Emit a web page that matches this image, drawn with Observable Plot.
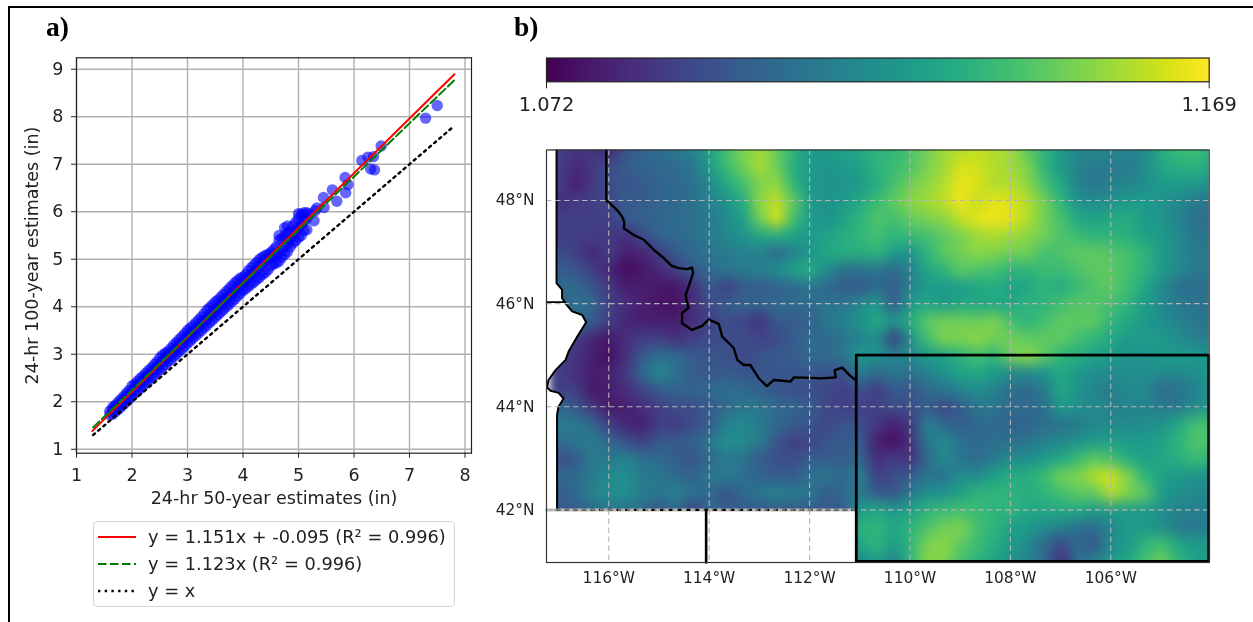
<!DOCTYPE html>
<html><head><meta charset="utf-8">
<style>
html,body{margin:0;padding:0;background:#fff;}
#page{position:relative;width:1253px;height:622px;overflow:hidden;background:#fff;font-family:"DejaVu Sans";color:#222;filter:blur(0.4px);}
#page>svg,#page>figure{position:absolute;margin:0;}
.tag{position:absolute;font:bold 27.5px "Liberation Serif";color:#000;line-height:28px;}
.rule{position:absolute;background:#000;}
#legend{position:absolute;left:92.5px;top:520.5px;width:360px;height:84px;border:1px solid #d5d5d5;border-radius:4px;}
#legend svg{position:absolute;left:4px;top:0;}
#legend div{position:absolute;left:54.5px;font-size:17.8px;white-space:nowrap;line-height:20px;}
</style>
<script src="https://cdn.jsdelivr.net/npm/d3@7"></script>
<script src="https://cdn.jsdelivr.net/npm/@observablehq/plot@0.6"></script>
</head><body><div id="page"></div>
<script>
// ---------- panel a data ----------
const xTicks=[1,2,3,4,5,6,7,8];
const yTicks=[1,2,3,4,5,6,7,8,9];
const fitRed={slope:1.151,intercept:-0.095,from:1.283,to:7.81};
const fitGreen={slope:1.123,from:1.3,to:7.81};
const fitIdentity={from:1.3,to:7.8};
const legendLabels=["y = 1.151x + -0.095 (R² = 0.996)","y = 1.123x (R² = 0.996)","y = x"];
const bandX=[1.60,1.65,1.70,1.75,1.80,1.85,1.90,1.95,2.00,2.05,2.10,2.15,2.20,2.25,2.30,2.35,2.40,2.45,2.50,2.55,2.60,2.65,2.70,2.75,2.80,2.85,2.90,2.95,3.00,3.05,3.10,3.15,3.20,3.25,3.30,3.35,3.40,3.45,3.50,3.55,3.60,3.65,3.70,3.75,3.80,3.85,3.90,3.95,4.00,4.05,4.10,4.15,4.20,4.25,4.30,4.35,4.40,4.45,4.50,4.55,4.60,4.65,4.70,4.75,4.80,4.85,4.90,4.95,5.00,5.05,5.10,5.15];
const bandY=[[1.72,1.80],[1.74,1.82,1.88],[1.79,1.87,1.93],[1.84,1.92,1.99],[1.89,1.98,2.05],[1.95,2.04,2.11],[2.00,2.10,2.18],[2.06,2.16,2.24],[2.12,2.22,2.33],[2.18,2.28,2.37],[2.23,2.33,2.43],[2.29,2.39,2.49],[2.34,2.45,2.54],[2.40,2.50,2.60],[2.45,2.56,2.66],[2.51,2.62,2.71],[2.56,2.67,2.78],[2.62,2.73,2.84],[2.67,2.79,2.92],[2.73,2.85,2.98],[2.78,2.90,3.02],[2.84,2.96,3.06],[2.89,3.02,3.12],[2.95,3.07,3.19],[3.00,3.13,3.25],[3.06,3.19,3.31],[3.11,3.24,3.37],[3.17,3.30,3.43],[3.23,3.36,3.50],[3.28,3.42,3.55],[3.34,3.48,3.60],[3.39,3.53,3.66],[3.45,3.59,3.72],[3.50,3.65,3.78],[3.56,3.71,3.85],[3.61,3.76,3.93],[3.67,3.82,3.98],[3.72,3.88,4.04],[3.78,3.94,4.10],[3.83,3.99,4.14],[3.89,4.05,4.20],[3.94,4.11,4.26],[4.00,4.17,4.32],[4.05,4.22,4.38],[4.11,4.28,4.44],[4.16,4.34,4.50],[4.22,4.40,4.55],[4.28,4.45,4.60],[4.34,4.51,4.62],[4.38,4.56,4.68],[4.43,4.62,4.76],[4.48,4.68,4.82],[4.52,4.74,4.88],[4.58,4.80,4.94],[4.62,4.85,5.00],[4.68,4.91,5.04],[4.72,4.97,5.08],[4.78,5.00,5.10],[4.86,5.05,5.14],[4.90,5.08,5.20],[4.92,5.10,5.26],[4.96,5.14,5.40,5.50],[5.04,5.20,5.44],[5.10,5.28,5.48,5.66],[5.16,5.34,5.56,5.70],[5.26,5.42,5.58],[5.34,5.50,5.70],[5.39,5.58,5.78],[5.46,5.66,5.86,5.96],[5.50,5.74,5.95],[5.60,5.80,5.98],[5.62,5.86,5.98]];
const outlierX=[5.20,5.28,5.30,5.33,5.45,5.46,5.61,5.69,5.84,5.85,5.89,6.14,6.25,6.30,6.35,6.37,6.49,7.29,7.50];
const outlierY=[5.95,5.81,6.02,6.08,6.30,6.09,6.46,6.22,6.72,6.40,6.57,7.08,7.15,6.90,7.16,6.88,7.385,7.97,8.235];

// ---------- panel b data: ratio on a grid of 1/3 degree, from 117W to 104W, 49N to 41N ----------
const cbarMin=1.072, cbarMax=1.169;
const gridWest=-117, gridEast=-104, gridNorth=49, gridSouth=41;
const ratioRows=[
[1.090,1.087,1.087,1.082,1.098,1.103,1.106,1.112,1.116,1.128,1.140,1.150,1.155,1.146,1.135,1.125,1.125,1.128,1.130,1.135, 1.135,1.142,1.148,1.155,1.158,1.160,1.158,1.155,1.145,1.135,1.125,1.118,1.118,1.116,1.116,1.118,1.132,1.138,1.138,1.135],
[1.090,1.083,1.088,1.095,1.100,1.103,1.105,1.105,1.110,1.125,1.138,1.148,1.156,1.148,1.132,1.125,1.122,1.125,1.128,1.135, 1.138,1.142,1.150,1.155,1.163,1.162,1.158,1.155,1.150,1.135,1.125,1.115,1.112,1.112,1.112,1.118,1.130,1.133,1.135,1.130],
[1.090,1.080,1.088,1.095,1.098,1.100,1.103,1.105,1.108,1.118,1.130,1.140,1.150,1.153,1.135,1.125,1.122,1.122,1.125,1.132, 1.140,1.148,1.152,1.158,1.166,1.163,1.158,1.158,1.152,1.140,1.130,1.115,1.110,1.115,1.116,1.120,1.125,1.126,1.124,1.120],
[1.085,1.088,1.090,1.093,1.100,1.100,1.103,1.105,1.108,1.115,1.122,1.132,1.152,1.160,1.145,1.125,1.122,1.125,1.130,1.138, 1.145,1.152,1.155,1.160,1.167,1.160,1.165,1.163,1.158,1.148,1.135,1.122,1.118,1.122,1.125,1.125,1.122,1.118,1.112,1.110],
[1.090,1.090,1.090,1.090,1.100,1.102,1.104,1.106,1.108,1.112,1.118,1.128,1.148,1.163,1.140,1.125,1.122,1.128,1.135,1.142, 1.140,1.146,1.150,1.152,1.160,1.165,1.167,1.165,1.158,1.148,1.140,1.130,1.128,1.130,1.132,1.125,1.122,1.115,1.108,1.106],
[1.090,1.090,1.090,1.088,1.085,1.095,1.103,1.105,1.108,1.112,1.118,1.122,1.130,1.132,1.128,1.125,1.128,1.132,1.136,1.140, 1.135,1.138,1.140,1.145,1.150,1.155,1.157,1.155,1.152,1.148,1.142,1.138,1.135,1.135,1.133,1.128,1.125,1.118,1.110,1.110],
[1.095,1.090,1.082,1.090,1.080,1.082,1.090,1.100,1.105,1.110,1.112,1.115,1.115,1.105,1.115,1.123,1.130,1.133,1.133,1.135, 1.125,1.122,1.135,1.145,1.148,1.152,1.150,1.148,1.148,1.140,1.142,1.145,1.145,1.143,1.140,1.135,1.125,1.118,1.112,1.110],
[1.100,1.098,1.090,1.082,1.075,1.078,1.083,1.090,1.100,1.105,1.110,1.112,1.115,1.120,1.127,1.132,1.118,1.108,1.107,1.110, 1.105,1.115,1.130,1.135,1.145,1.142,1.140,1.135,1.135,1.138,1.138,1.142,1.145,1.145,1.140,1.135,1.125,1.118,1.112,1.110],
[1.106,1.105,1.098,1.088,1.080,1.080,1.078,1.078,1.085,1.100,1.090,1.100,1.100,1.102,1.105,1.110,1.105,1.100,1.100,1.105, 1.100,1.115,1.125,1.125,1.125,1.130,1.132,1.128,1.130,1.135,1.132,1.138,1.142,1.145,1.138,1.130,1.118,1.108,1.106,1.108],
[1.100,1.108,1.105,1.090,1.085,1.080,1.077,1.076,1.085,1.095,1.100,1.103,1.103,1.105,1.105,1.105,1.110,1.110,1.118,1.125, 1.100,1.125,1.130,1.125,1.130,1.130,1.130,1.130,1.135,1.135,1.140,1.143,1.143,1.140,1.135,1.125,1.118,1.112,1.110,1.108],
[1.100,1.105,1.100,1.090,1.082,1.080,1.080,1.080,1.085,1.090,1.095,1.092,1.086,1.100,1.100,1.102,1.110,1.115,1.122,1.130, 1.122,1.132,1.145,1.148,1.148,1.147,1.150,1.140,1.135,1.140,1.145,1.145,1.145,1.135,1.130,1.125,1.120,1.115,1.110,1.110],
[1.100,1.090,1.082,1.078,1.085,1.090,1.090,1.085,1.090,1.095,1.095,1.095,1.092,1.093,1.100,1.105,1.105,1.110,1.115,1.120, 1.090,1.120,1.140,1.150,1.150,1.152,1.148,1.148,1.145,1.145,1.145,1.140,1.135,1.130,1.125,1.125,1.125,1.120,1.115,1.112],
[1.090,1.087,1.080,1.076,1.085,1.100,1.108,1.105,1.100,1.098,1.097,1.093,1.097,1.100,1.100,1.105,1.105,1.110,1.125,1.120, 1.115,1.118,1.125,1.128,1.135,1.140,1.135,1.148,1.152,1.145,1.135,1.132,1.128,1.125,1.122,1.122,1.125,1.125,1.125,1.122],
[1.090,1.085,1.080,1.080,1.088,1.105,1.118,1.108,1.100,1.098,1.100,1.098,1.098,1.098,1.098,1.098,1.098,1.095,1.112,1.105, 1.110,1.108,1.115,1.122,1.128,1.130,1.125,1.118,1.118,1.122,1.130,1.125,1.120,1.118,1.120,1.120,1.118,1.118,1.120,1.125],
[1.090,1.090,1.078,1.080,1.085,1.092,1.100,1.103,1.103,1.105,1.108,1.105,1.102,1.098,1.096,1.095,1.093,1.090,1.096,1.090, 1.100,1.098,1.105,1.110,1.115,1.120,1.115,1.108,1.105,1.112,1.130,1.122,1.115,1.113,1.118,1.118,1.105,1.108,1.115,1.122],
[1.105,1.098,1.088,1.078,1.080,1.085,1.090,1.095,1.095,1.100,1.105,1.110,1.110,1.105,1.103,1.100,1.093,1.090,1.090,1.090, 1.095,1.095,1.100,1.093,1.100,1.110,1.110,1.105,1.105,1.108,1.125,1.120,1.118,1.115,1.115,1.116,1.112,1.112,1.118,1.125],
[1.112,1.112,1.105,1.090,1.082,1.080,1.090,1.088,1.095,1.100,1.115,1.118,1.112,1.105,1.100,1.098,1.093,1.098,1.095,1.088, 1.080,1.088,1.115,1.105,1.100,1.105,1.105,1.103,1.103,1.107,1.108,1.112,1.118,1.118,1.118,1.120,1.122,1.130,1.140,1.140],
[1.106,1.110,1.112,1.105,1.096,1.090,1.100,1.100,1.102,1.110,1.122,1.118,1.112,1.098,1.090,1.092,1.098,1.100,1.100,1.080, 1.076,1.085,1.112,1.118,1.108,1.105,1.107,1.108,1.110,1.115,1.118,1.122,1.125,1.128,1.125,1.125,1.128,1.135,1.142,1.142],
[1.095,1.100,1.112,1.112,1.115,1.108,1.105,1.100,1.098,1.105,1.112,1.108,1.100,1.095,1.095,1.100,1.100,1.100,1.104,1.085, 1.090,1.085,1.105,1.118,1.110,1.105,1.112,1.118,1.120,1.125,1.130,1.138,1.145,1.140,1.132,1.128,1.130,1.133,1.138,1.135],
[1.104,1.105,1.112,1.118,1.120,1.112,1.110,1.105,1.103,1.110,1.112,1.108,1.103,1.100,1.100,1.108,1.110,1.105,1.115,1.090, 1.095,1.100,1.110,1.108,1.120,1.118,1.128,1.132,1.132,1.138,1.148,1.150,1.158,1.162,1.150,1.135,1.128,1.125,1.122,1.120],
[1.100,1.105,1.115,1.120,1.120,1.112,1.110,1.115,1.108,1.105,1.097,1.105,1.110,1.115,1.112,1.110,1.100,1.105,1.112,1.100, 1.098,1.112,1.120,1.122,1.128,1.135,1.135,1.135,1.133,1.135,1.140,1.145,1.145,1.158,1.150,1.145,1.125,1.120,1.118,1.118],
[1.100,1.100,1.105,1.110,1.108,1.105,1.098,1.105,1.090,1.105,1.100,1.100,1.100,1.100,1.100,1.100,1.100,1.100,1.125,1.130, 1.125,1.128,1.135,1.138,1.140,1.138,1.135,1.135,1.130,1.130,1.130,1.130,1.125,1.125,1.125,1.125,1.120,1.115,1.113,1.115],
[1.105,1.105,1.105,1.105,1.105,1.105,1.105,1.105,1.105,1.105,1.105,1.105,1.105,1.105,1.105,1.105,1.105,1.105,1.135,1.135, 1.130,1.135,1.142,1.148,1.150,1.140,1.135,1.128,1.125,1.118,1.115,1.108,1.105,1.118,1.125,1.125,1.120,1.112,1.110,1.115],
[1.105,1.105,1.105,1.105,1.105,1.105,1.105,1.105,1.105,1.105,1.105,1.105,1.105,1.105,1.105,1.105,1.105,1.105,1.130,1.135, 1.125,1.135,1.150,1.152,1.145,1.138,1.132,1.125,1.118,1.105,1.093,1.105,1.098,1.120,1.125,1.135,1.140,1.130,1.125,1.125],
[1.105,1.105,1.105,1.105,1.105,1.105,1.105,1.105,1.105,1.105,1.105,1.105,1.105,1.105,1.105,1.105,1.105,1.105,1.118,1.125, 1.115,1.135,1.152,1.150,1.140,1.135,1.128,1.122,1.115,1.105,1.085,1.108,1.115,1.125,1.130,1.140,1.148,1.135,1.128,1.125]
];
const lonTicks=[-116,-114,-112,-110,-108,-106];
const latTicks=[42,44,46,48];
const idahoMontanaLon=[-116.05,-116.05,-115.97,-115.83,-115.73,-115.69,-115.70,-115.50,-115.30,-115.10,-114.90,-114.74,-114.61,-114.44,-114.34,-114.32,-114.41,-114.47,-114.44,-114.41,-114.54,-114.54,-114.34,-114.14,-114.01,-113.81,-113.74,-113.51,-113.44,-113.31,-113.18,-113.01,-112.85,-112.71,-112.38,-112.31,-111.98,-111.78,-111.48,-111.50,-111.35,-111.19,-111.07];
const idahoMontanaLat=[49,48.0,47.94,47.81,47.68,47.58,47.46,47.33,47.24,47.04,46.88,46.73,46.69,46.67,46.70,46.59,46.33,46.17,46.01,45.92,45.82,45.62,45.49,45.57,45.69,45.61,45.36,45.14,44.91,44.81,44.81,44.55,44.40,44.52,44.49,44.57,44.56,44.55,44.57,44.71,44.76,44.60,44.51];
const westLon=[-117.04,-117.04,-116.93,-116.93,-116.86,-116.73,-116.53,-116.45,-116.63,-116.80,-116.86,-117.06,-117.20,-117.23,-117.16,-117.00,-116.90,-117.00,-117.03,-117.03];
const westLat=[49,46.40,46.27,46.11,46.0,45.85,45.78,45.64,45.36,45.07,44.91,44.71,44.52,44.38,44.31,44.27,44.16,44.0,43.84,42.0];
const wyoLon=[-111.07,-111.07,-104.05,-104.05,-111.07];
const wyoLat=[41.0,45.0,45.0,41.0,41.0];

const pts=(xs,ys)=>xs.map((x,i)=>({x,y:ys[i]}));
const page=document.getElementById("page");
const place=(el,l,t)=>{el.style.position="absolute";el.style.left=l+"px";el.style.top=t+"px";page.appendChild(el);};
const font={fontFamily:"DejaVu Sans",fontSize:"17.5px",background:"transparent",color:"#222",overflow:"visible"};

// ---------- panel a ----------
const scatter=[...bandX.flatMap((x,i)=>bandY[i].map(y=>({x,y}))),...pts(outlierX,outlierY)];
const fitLine=(f)=>[f.from,f.to].map(x=>({x,y:(f.slope??1)*x+(f.intercept??0)}));
place(Plot.plot({
  width:500,height:520,marginLeft:76,marginRight:29,marginTop:57.3,marginBottom:67.3,
  style:font,
  x:{domain:[1,8.117]},y:{domain:[0.917,9.24]},
  marks:[
    Plot.gridX(xTicks,{stroke:"#b0b0b0",strokeOpacity:1,strokeWidth:1.4}),
    Plot.gridY(yTicks,{stroke:"#b0b0b0",strokeOpacity:1,strokeWidth:1.4}),
    Plot.dot(scatter,{x:"x",y:"y",r:5.7,fill:"blue",fillOpacity:0.6,stroke:"none"}),
    Plot.line(fitLine(fitRed),{x:"x",y:"y",stroke:"red",strokeWidth:2}),
    Plot.line(fitLine(fitGreen),{x:"x",y:"y",stroke:"green",strokeWidth:2,strokeDasharray:"8.5,3.5"}),
    Plot.line(fitLine(fitIdentity),{x:"x",y:"y",stroke:"black",strokeWidth:2.4,strokeDasharray:"2.4,4.3"}),
    Plot.axisX({ticks:xTicks,tickSize:5,tickPadding:10,tickFormat:d=>d,label:"24-hr 50-year estimates (in)",labelAnchor:"center",labelArrow:"none",labelOffset:51,stroke:"#222",fill:"#222"}),
    Plot.axisY({ticks:yTicks,tickSize:5,tickPadding:8,tickFormat:d=>d,label:"24-hr 100-year estimates (in)",labelAnchor:"center",labelArrow:"none",labelOffset:51,stroke:"#222",fill:"#222"}),
    Plot.frame({stroke:"#222",strokeWidth:1.2})
  ]
}),0,0);

// legend of panel a
const leg=document.createElement("div");leg.id="legend";
const rowsY=[15,42,69];
leg.innerHTML=`<svg width="50" height="84">
<line x1="0" x2="38" y1="${rowsY[0]}" y2="${rowsY[0]}" stroke="red" stroke-width="2"/>
<line x1="0" x2="38" y1="${rowsY[1]}" y2="${rowsY[1]}" stroke="green" stroke-width="2" stroke-dasharray="8.5,3.5"/>
<line x1="0" x2="38" y1="${rowsY[2]}" y2="${rowsY[2]}" stroke="black" stroke-width="2.4" stroke-dasharray="2.4,4.3"/></svg>`+
legendLabels.map((t,i)=>`<div style="top:${rowsY[i]-10}px">${t}</div>`).join("");
page.appendChild(leg);

// ---------- colour bar ----------
const viridis={type:"linear",scheme:"viridis",domain:[cbarMin,cbarMax]};
place(Plot.plot({
  width:753,height:90,marginLeft:46,marginRight:44.3,marginTop:17.5,marginBottom:48.7,
  style:{...font,fontSize:"19.4px"},
  color:viridis,x:{domain:[cbarMin,cbarMax]},y:{domain:[0,1],axis:null},
  marks:[
    Plot.raster({x1:cbarMin,x2:cbarMax,y1:0,y2:1,width:256,height:1,fill:(x,y)=>x}),
    Plot.axisX({ticks:[cbarMin,cbarMax],tickSize:7,tickPadding:8.5,tickFormat:d=>d.toFixed(3),label:null,stroke:"#222",fill:"#222"}),
    Plot.frame({stroke:"#222",strokeWidth:1.2})
  ]
}),500,40);

// ---------- map ----------
const mask=[{x:-117.4,y:49.2},...pts(westLon,westLat),{x:-111.07,y:42},{x:-111.07,y:40.8},{x:-117.4,y:40.8}];
const h=(lat,a,b)=>[{x:a,y:lat},{x:b,y:lat}];
const v=(lon,a,b)=>[{x:lon,y:a},{x:lon,y:b}];
const border={x:"x",y:"y",stroke:"#000"};
const cell=1/3;
const map=Plot.plot({
  width:753,height:502,marginLeft:46,marginRight:44.3,marginTop:29.5,marginBottom:60,
  style:{...font,fontSize:"15.4px"},
  color:viridis,
  x:{domain:[-117.24,-104.04]},
  y:{domain:[40.98,48.98]},
  marks:[
    Plot.raster(ratioRows.flat(),{width:ratioRows[0].length,height:ratioRows.length,x1:gridWest-cell/2,x2:gridEast+cell/2,y1:gridNorth+cell/2,y2:gridSouth-cell/2,clip:true}),
    Plot.line(mask,{x:"x",y:"y",fill:"white",stroke:"none",clip:true}),
    Plot.line(pts(idahoMontanaLon,idahoMontanaLat),{...border,strokeWidth:2.4,clip:true}),
    Plot.line(pts(westLon,westLat),{...border,strokeWidth:2,clip:true}),
    Plot.line(h(46.03,-117.24,-116.87),{...border,strokeWidth:1.6}),
    Plot.line(h(42,-117.24,-111.07),{x:"x",y:"y",stroke:"#bdbdbd",strokeWidth:3}),
    Plot.line(h(42,-117.04,-111.07),{...border,strokeWidth:2.2,strokeDasharray:"3,5.7"}),
    Plot.line(v(-114.06,40.98,42),{...border,strokeWidth:2.6}),
    Plot.gridX(lonTicks,{stroke:"#b4b4b4",strokeOpacity:1,strokeWidth:1.1,strokeDasharray:"5.5,3.5"}),
    Plot.gridY(latTicks,{stroke:"#b4b4b4",strokeOpacity:1,strokeWidth:1.1,strokeDasharray:"5.5,3.5"}),
    Plot.line(pts(wyoLon,wyoLat),{...border,strokeWidth:2.8}),
    Plot.axisX({ticks:lonTicks,tickSize:0,tickPadding:10,tickFormat:d=>`${-d}°W`,label:null,fill:"#222"}),
    Plot.axisY({ticks:latTicks,tickSize:0,tickPadding:12,tickFormat:d=>`${d}°N`,label:null,fill:"#222"}),
    Plot.frame({stroke:"#333",strokeWidth:1.2})
  ]
});
map.querySelectorAll("image").forEach(im=>{im.style.filter="blur(3.5px)";});
place(map,500,120);

// ---------- page furniture ----------
const addTag=(t,l,top)=>{const d=document.createElement("div");d.className="tag";d.textContent=t;d.style.left=l+"px";d.style.top=top+"px";page.appendChild(d);};
addTag("a)",46,13);addTag("b)",514,13);
const addRule=(l,t,w,h)=>{const d=document.createElement("div");d.className="rule";Object.assign(d.style,{left:l+"px",top:t+"px",width:w+"px",height:h+"px"});page.appendChild(d);};
addRule(7.5,5.5,1246,2);addRule(7.5,5.5,2,617);
</script></body></html>
